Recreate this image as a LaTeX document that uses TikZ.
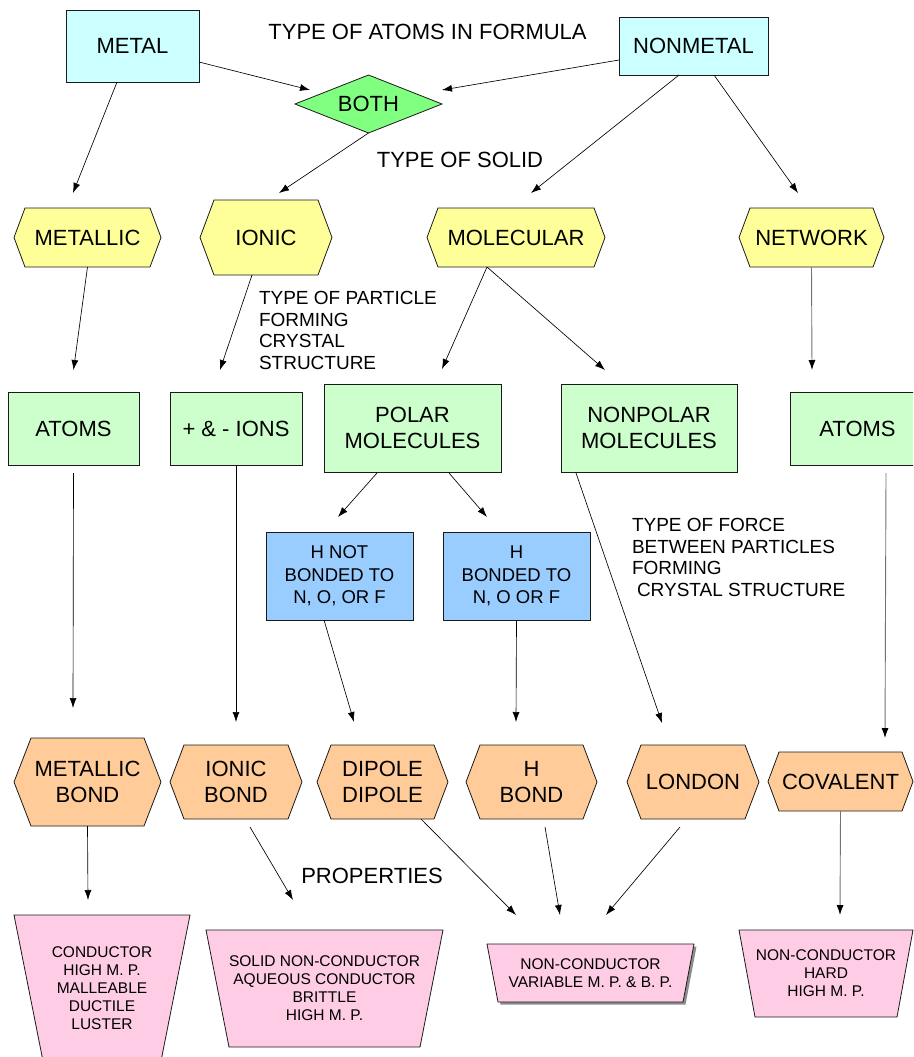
\documentclass[tikz,border=0pt]{standalone}
\usepackage{fontspec}
\setmainfont{Liberation Sans}
\usetikzlibrary{arrows.meta,backgrounds,calc}
\pgfdeclarelayer{shadowlayer}
\pgfsetlayers{shadowlayer,background,main}
\definecolor{cyanbox}{HTML}{CCFFFF}
\definecolor{bothgreen}{HTML}{80FF80}
\definecolor{yellowhex}{HTML}{FFFF99}
\definecolor{greenbox}{HTML}{CCFFCC}
\definecolor{bluebox}{HTML}{99CCFF}
\definecolor{orangehex}{HTML}{FFCC99}
\definecolor{pinktrap}{HTML}{FFCCE6}
\definecolor{edgecol}{HTML}{1A1A1A}
\newcommand{\fbig}{\fontsize{22}{26}\selectfont}
\newcommand{\fmid}{\fontsize{19}{21.5}\selectfont}
\newcommand{\fblue}{\fontsize{18.5}{22.5}\selectfont}
\newcommand{\fsmall}{\fontsize{15.5}{18}\selectfont}
\tikzset{
  base/.style={inner sep=0pt, outer sep=0pt, align=center, text=black},
  outline/.style={draw=edgecol, line width=0.8pt},
  box/.style={base, outline, font=\fbig},
  conn/.style={-{Latex[length=10pt,width=7pt]}, line width=0.65pt, draw=black},
  gconn/.style={-{Latex[length=10pt,width=7pt,color=black]}, line width=0.9pt, draw=black!55},
  lbl/.style={base, font=\fmid, align=left},
}
% hexagon: name, x, y, w, h, inset, fill, text
\newcommand{\hexnode}[8]{%
  \node[base, font=\fbig, minimum width=#4pt, minimum height=#5pt] (#1) at (#2,#3) {#8};
  \begin{pgfonlayer}{background}
    \filldraw[outline, fill=#7] ([xshift=#6pt]#1.north west) -- ([xshift=-#6pt]#1.north east) -- (#1.east)
      -- ([xshift=-#6pt]#1.south east) -- ([xshift=#6pt]#1.south west) -- (#1.west) -- cycle;
  \end{pgfonlayer}}
% trapezoid: name, x, y, w, h, bottom inset, text
\newcommand{\trapnode}[7]{%
  \node[base, font=\fsmall, minimum width=#4pt, minimum height=#5pt] (#1) at (#2,#3) {#7};
  \begin{pgfonlayer}{background}
    \filldraw[outline, fill=pinktrap] (#1.north west) -- (#1.north east)
      -- ([xshift=-#6pt]#1.south east) -- ([xshift=#6pt]#1.south west) -- cycle;
  \end{pgfonlayer}}
% diamond: name, x, y, w, h, text
\newcommand{\diamnode}[6]{%
  \node[base, font=\fbig, minimum width=#4pt, minimum height=#5pt] (#1) at (#2,#3) {#6};
  \begin{pgfonlayer}{background}
    \filldraw[outline, fill=bothgreen] (#1.north) -- (#1.east) -- (#1.south) -- (#1.west) -- cycle;
  \end{pgfonlayer}}
\begin{document}
\begin{tikzpicture}[x=1pt, y=-1pt]
\useasboundingbox (0,0) rectangle (913,1057);
\clip (0,0) rectangle (913,1057);
\begin{pgfonlayer}{shadowlayer}
  \fill[white] (0,0) rectangle (913,1057);
\end{pgfonlayer}

% ---- top row
\node[box, fill=cyanbox, minimum width=133pt, minimum height=72pt] (metal) at (132.5,46) {METAL};
\node[box, fill=cyanbox, minimum width=149pt, minimum height=58pt] (nonmetal) at (693.5,46) {NONMETAL};
\diamnode{both}{368.5}{104}{147}{58}{BOTH}
\node[base, font=\fbig] (tatoms) at (427.5,32) {TYPE OF ATOMS IN FORMULA};
\node[base, font=\fbig] (tsolid) at (460,160) {TYPE OF SOLID};

% ---- type of solid
\hexnode{metallic}{87.5}{237.5}{147}{59}{11}{yellowhex}{METALLIC}
\hexnode{ionic}{266}{237.5}{132}{75}{14}{yellowhex}{IONIC}
\hexnode{molecular}{516}{237.5}{178}{59}{11}{yellowhex}{MOLECULAR}
\hexnode{network}{811.5}{237.5}{145}{59}{11}{yellowhex}{NETWORK}

\node[lbl, anchor=west] (lblA) at (259,330.5) {TYPE OF PARTICLE\\FORMING\\CRYSTAL\\STRUCTURE};

% ---- particles
\node[box, fill=greenbox, minimum width=131pt, minimum height=73pt] (atomsA) at (73.5,428.5) {ATOMS};
\node[box, fill=greenbox, minimum width=132pt, minimum height=73pt] (ions) at (236,428.5) {+ \& - IONS};
\node[box, fill=greenbox, minimum width=177pt, minimum height=88pt] (polar) at (412.5,428) {POLAR\\MOLECULES};
\node[box, fill=greenbox, minimum width=176pt, minimum height=88pt] (nonpolar) at (649,428) {NONPOLAR\\MOLECULES};
\node[box, fill=greenbox, minimum width=135pt, minimum height=73pt] (atomsB) at (857.5,428.5) {ATOMS};

\node[box, font=\fblue, fill=bluebox, minimum width=147pt, minimum height=88pt] (hnot) at (339.5,576) {H NOT\\BONDED TO\\N, O, OR F};
\node[box, font=\fblue, fill=bluebox, minimum width=147pt, minimum height=88pt] (hbonded) at (516.5,576) {H\\BONDED TO\\N, O OR F};

\node[lbl, anchor=west] (lblB) at (632,557.5) {TYPE OF FORCE\\BETWEEN PARTICLES\\FORMING\\\hspace*{5pt}CRYSTAL STRUCTURE};

% ---- forces
\hexnode{mbond}{87.5}{782}{147}{88}{17}{orangehex}{METALLIC\\BOND}
\hexnode{ibond}{236}{782}{132}{74}{14}{orangehex}{IONIC\\BOND}
\hexnode{dipole}{382.5}{782}{131}{74}{14}{orangehex}{DIPOLE\\DIPOLE}
\hexnode{hbond}{531.5}{782}{131}{74}{14}{orangehex}{H\\BOND}
\hexnode{london}{693}{782}{132}{74}{14}{orangehex}{LONDON}
\hexnode{covalent}{840.5}{781.5}{145}{59}{11}{orangehex}{COVALENT}

\node[base, font=\fbig] (tprops) at (372,876) {PROPERTIES};

% ---- properties
\trapnode{mprop}{102}{988}{176}{146}{29}{CONDUCTOR\\HIGH M. P.\\MALLEABLE\\DUCTILE\\LUSTER}
\trapnode{iprop}{324.5}{988.5}{237}{117}{23}{SOLID NON-CONDUCTOR\\AQUEOUS CONDUCTOR\\BRITTLE\\HIGH M. P.}
\trapnode{molprop}{590.5}{973}{207}{58}{11}{NON-CONDUCTOR\\VARIABLE M. P. \& B. P.}
\trapnode{nprop}{826}{973.5}{174}{87}{16}{NON-CONDUCTOR\\HARD\\HIGH M. P.}
\begin{pgfonlayer}{shadowlayer}
  \fill[black!45] ([xshift=2.5pt,yshift=-2.5pt]molprop.north west) -- ([xshift=2.5pt,yshift=-2.5pt]molprop.north east)
    -- ([xshift=-8.5pt,yshift=-2.5pt]molprop.south east) -- ([xshift=13.5pt,yshift=-2.5pt]molprop.south west) -- cycle;
\end{pgfonlayer}

% ---- connectors
\draw[conn] ([xshift=-15.5pt]metal.south) -- ([xshift=-14.5pt,yshift=15pt]metallic.north);
\draw[conn] ([yshift=-16pt]metal.east) -- ([xshift=15pt,yshift=14pt]both.west);
\draw[conn] ([yshift=-14pt]nonmetal.west) -- ([yshift=14pt]both.east);
\draw[conn] (both.south) -- ([xshift=13pt,yshift=7pt]ionic.north);
\draw[conn] ([xshift=-14.5pt]nonmetal.south) -- ([xshift=15pt,yshift=15pt]molecular.north);
\draw[conn] ([xshift=20.5pt]nonmetal.south) -- ([xshift=-13.5pt,yshift=15pt]network.north);

\draw[conn] (metallic.south) -- ([yshift=22pt]atomsA.north);
\draw[conn] ([xshift=-14pt]ionic.south) -- ([xshift=-16pt,yshift=22pt]ions.north);
\draw[conn] ([xshift=-29pt]molecular.south) -- ([xshift=29.5pt,yshift=15pt]polar.north);
\draw[conn] ([xshift=-29pt]molecular.south) -- ([xshift=-44pt,yshift=14pt]nonpolar.north);
\draw[gconn] (network.south) -- ([xshift=-45.5pt,yshift=22pt]atomsB.north);

\draw[conn] ([yshift=-8pt]atomsA.south) -- ([xshift=-14.5pt,yshift=30pt]mbond.north);
\draw[conn] (ions.south) -- ([yshift=23pt]ibond.north);
\draw[conn] ([xshift=-35.5pt,yshift=-1pt]polar.south) -- ([xshift=-1.5pt,yshift=15pt]hnot.north);
\draw[conn] ([xshift=36.5pt,yshift=-1pt]polar.south) -- ([xshift=-29.5pt,yshift=15pt]hbonded.north);
\draw[conn] ([xshift=-73pt,yshift=-1pt]nonpolar.south) -- ([xshift=-31pt,yshift=22pt]london.north);
\draw[gconn] ([xshift=28.5pt,yshift=-8pt]atomsB.south) -- ([xshift=44.5pt,yshift=14pt]covalent.north);
\draw[conn] ([xshift=-15.5pt]hnot.south) -- ([xshift=-28.5pt,yshift=23pt]dipole.north);
\draw[conn] (hbonded.south) -- ([xshift=-15.5pt,yshift=23pt]hbond.north);

\draw[conn] (mbond.south) -- ([xshift=-14pt,yshift=15pt]mprop.north);
\draw[conn] ([xshift=14pt,yshift=-8pt]ibond.south) -- ([xshift=-31.5pt,yshift=30pt]iprop.north);
\draw[conn] ([xshift=38.5pt]dipole.south) -- ([xshift=-74.5pt,yshift=29pt]molprop.north);
\draw[conn] ([xshift=13.5pt,yshift=-8pt]hbond.south) -- ([xshift=-30.5pt,yshift=29pt]molprop.north);
\draw[conn] ([xshift=-13pt,yshift=-8pt]london.south) -- ([xshift=15.5pt,yshift=29pt]molprop.north);
\draw[gconn] (covalent.south) -- ([xshift=14pt,yshift=15pt]nprop.north);
\end{tikzpicture}
\end{document}
